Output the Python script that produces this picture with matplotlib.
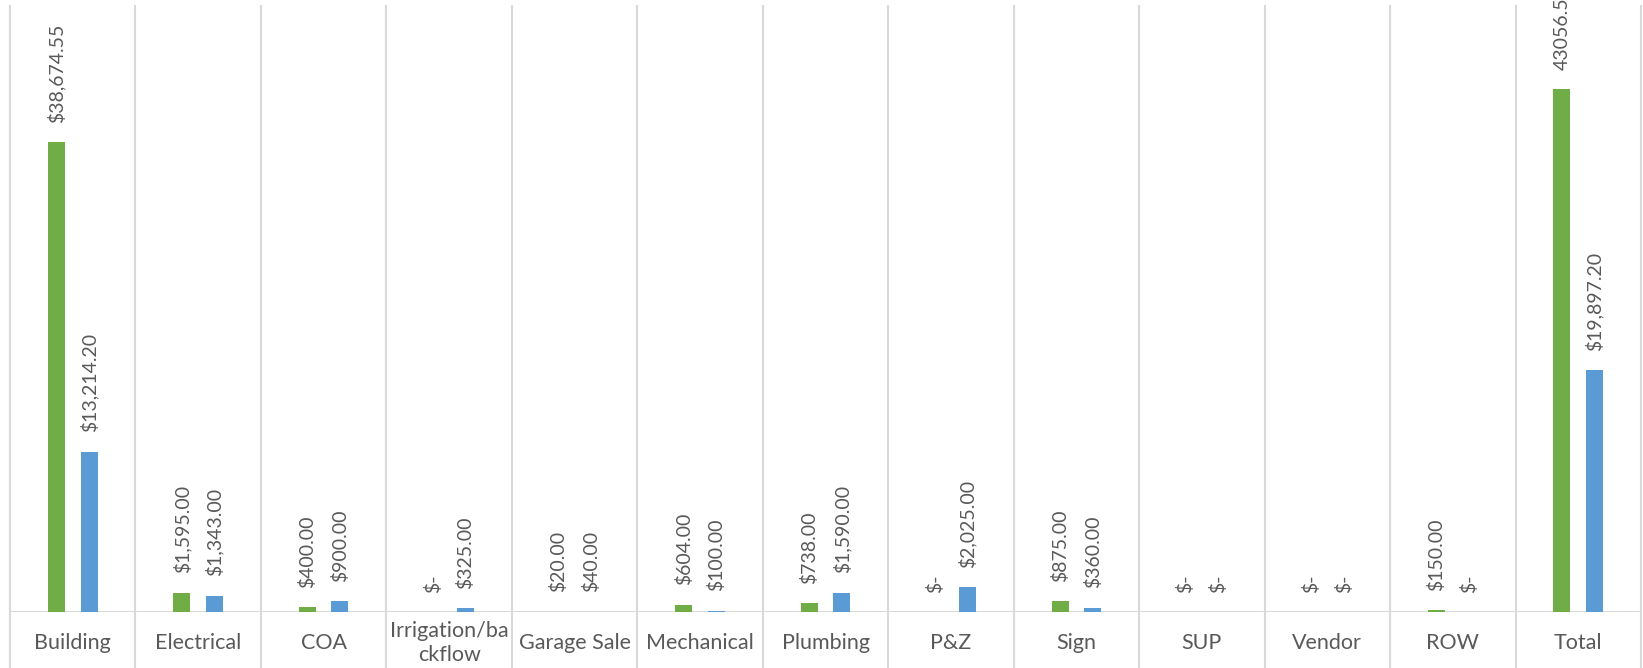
import matplotlib
matplotlib.use("Agg")
from matplotlib import pyplot as plt
import numpy as np

categories = ["Building", "Electrical", "COA", "Irrigation/ba\nckflow", "Garage Sale",
              "Mechanical", "Plumbing", "P&Z", "Sign", "SUP", "Vendor", "ROW", "Total"]
green_vals = [38674.55, 1595.00, 400.00, 0, 20.00, 604.00, 738.00, 0, 875.00, 0, 0, 150.00, 43056.55]
blue_vals = [13214.20, 1343.00, 900.00, 325.00, 40.00, 100.00, 1590.00, 2025.00, 360.00, 0, 0, 0, 19897.20]

green = "#70AD47"
blue = "#5B9BD5"
grey_txt = "#595959"
grid_c = "#D9D9D9"

plt.rcParams['font.family'] = ['Lato', 'DejaVu Sans']


def money(v):
    if v == 0:
        return "$-"
    return "${:,.2f}".format(v)


green_lab = [money(v) for v in green_vals]
green_lab[-1] = "{:.2f}".format(green_vals[-1])  # total label has no $ in the original
blue_lab = [money(v) for v in blue_vals]

fig = plt.figure(figsize=(16.43, 6.68), dpi=100)
ax = fig.add_axes([10 / 1643, 1 - 612 / 668, 1631 / 1643, 607 / 668])

x = np.arange(len(categories))
w = 0.135
off = 0.13
ax.bar(x - off, green_vals, w, color=green, zorder=3)
ax.bar(x + off, blue_vals, w, color=blue, zorder=3)

for xi, v, lab in zip(x - off, green_vals, green_lab):
    ax.annotate(lab, (xi, v), xytext=(0, 14), textcoords="offset points",
                rotation=90, ha="center", va="bottom", color=grey_txt, fontsize=14)
for xi, v, lab in zip(x + off, blue_vals, blue_lab):
    ax.annotate(lab, (xi, v), xytext=(0, 14), textcoords="offset points",
                rotation=90, ha="center", va="bottom", color=grey_txt, fontsize=14)

ax.set_xlim(-0.5, len(categories) - 0.5)
ax.set_ylim(0, 50000)

# category separators run down through the label area
ax.vlines(np.arange(len(categories) + 1) - 0.5, -0.1, 1, transform=ax.get_xaxis_transform(),
          colors=grid_c, linewidth=1.5, clip_on=False, zorder=1)
ax.axhline(0, color=grid_c, linewidth=1.5, zorder=2)

for s in ax.spines.values():
    s.set_visible(False)
ax.set_yticks([])
ax.set_xticks(x)
ax.set_xticklabels(categories, fontsize=15.5, color=grey_txt, linespacing=1.25)
for t in ax.get_xticklabels():
    t.set_va("center")
ax.tick_params(axis="x", length=0, pad=22.5)

plt.savefig("out.png", dpi=100)
